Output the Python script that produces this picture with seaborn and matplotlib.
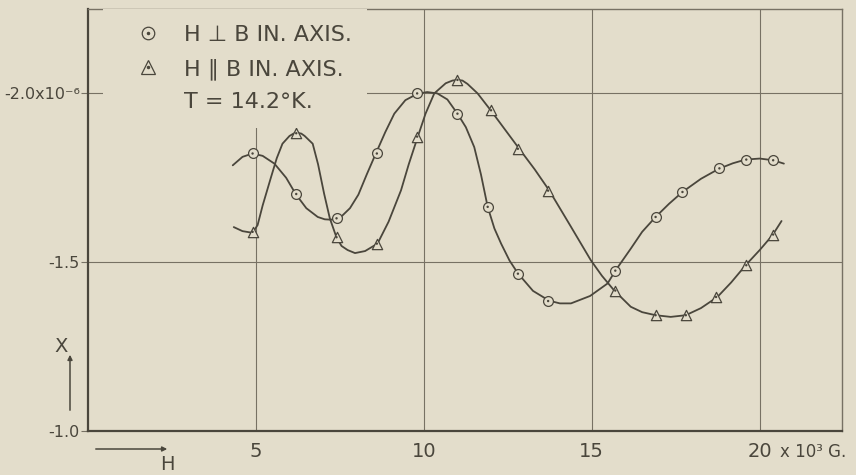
import matplotlib
matplotlib.use("Agg")
import matplotlib.pyplot as plt
import seaborn as sns
import pandas as pd
from matplotlib.lines import Line2D
from matplotlib.legend_handler import HandlerTuple

# ---- measured points (field in 10^3 G, |chi| in 10^-6) ----
perp_field = [4.9, 6.2, 7.4, 8.6, 9.8, 11.0, 11.9, 12.8, 13.7, 15.7, 16.9, 17.7, 18.8, 19.6, 20.4]
perp_chi = [1.822, 1.702, 1.630, 1.822, 2.000, 1.940, 1.664, 1.466, 1.385, 1.475, 1.634, 1.708, 1.778, 1.804, 1.802]

par_field = [4.9, 6.2, 7.4, 8.6, 9.8, 11.0, 12.0, 12.8, 13.7, 15.7, 16.9, 17.8, 18.7, 19.6, 20.4]
par_chi = [1.590, 1.882, 1.574, 1.555, 1.872, 2.040, 1.950, 1.836, 1.712, 1.416, 1.343, 1.343, 1.397, 1.491, 1.582]

# ---- drawn smooth curves ----
perp_curve_field = [4.31, 4.6, 4.9, 5.2, 5.55, 5.9, 6.19, 6.5, 6.84, 7.05, 7.23, 7.4, 7.53, 7.8, 8.05, 8.3,
                    8.57, 8.85, 9.12, 9.45, 9.81, 10.1, 10.4, 10.7, 11.0, 11.25, 11.5, 11.7, 11.9, 12.1,
                    12.3, 12.55, 12.8, 13.25, 13.73, 14.05, 14.38, 14.95, 15.47, 15.71, 16.16, 16.5, 16.9,
                    17.3, 17.7, 18.25, 18.79, 19.2, 19.58, 20.0, 20.4, 20.72]
perp_curve_chi = [1.787, 1.812, 1.822, 1.815, 1.792, 1.750, 1.701, 1.660, 1.634, 1.627, 1.626, 1.628, 1.634,
                  1.660, 1.700, 1.760, 1.822, 1.885, 1.940, 1.980, 1.999, 2.004, 2.000, 1.982, 1.940, 1.900,
                  1.841, 1.760, 1.664, 1.600, 1.555, 1.505, 1.467, 1.415, 1.386, 1.378, 1.378, 1.400, 1.437,
                  1.476, 1.540, 1.590, 1.634, 1.673, 1.708, 1.747, 1.777, 1.793, 1.804, 1.807, 1.802, 1.792]

par_curve_field = [4.34, 4.6, 4.9, 5.05, 5.2, 5.45, 5.62, 5.79, 6.0, 6.12, 6.24, 6.35, 6.45, 6.69, 6.85, 7.03,
                   7.2, 7.4, 7.55, 7.73, 7.95, 8.25, 8.62, 8.95, 9.32, 9.55, 9.81, 10.05, 10.31, 10.65,
                   10.85, 11.0, 11.15, 11.3, 11.6, 11.99, 12.4, 12.84, 13.3, 13.73, 14.35, 14.97, 15.3,
                   15.66, 16.16, 16.5, 16.9, 17.35, 17.8, 18.25, 18.74, 19.15, 19.58, 20.0, 20.38, 20.65]
par_curve_chi = [1.604, 1.592, 1.587, 1.610, 1.668, 1.752, 1.808, 1.851, 1.874, 1.881, 1.883, 1.881, 1.874,
                 1.851, 1.790, 1.703, 1.630, 1.573, 1.548, 1.536, 1.527, 1.533, 1.555, 1.620, 1.713, 1.790,
                 1.869, 1.940, 2.000, 2.030, 2.038, 2.040, 2.038, 2.028, 2.000, 1.950, 1.895, 1.836, 1.775,
                 1.713, 1.610, 1.506, 1.460, 1.417, 1.368, 1.352, 1.343, 1.338, 1.343, 1.364, 1.397, 1.440,
                 1.491, 1.536, 1.580, 1.622]

y_ticks = [1.0, 1.5, 2.0]
y_tick_labels = ["-1.0", "-1.5", "-2.0x10\u207b\u2076"]
x_ticks = [5, 10, 15, 20]
x_tick_labels = ["5", "10", "15", "20"]
x_unit_label = "x 10\u00b3 G."
legend_labels = ["H \u22a5 B IN. AXIS.", "H \u2225 B IN. AXIS.", "T = 14.2\u00b0K."]

BG = "#E3DDCB"
INK = "#4a463c"
GRID = "#777164"

sns.set_theme(style="white")
plt.rcParams["font.family"] = ["DejaVu Sans"]

W, H = 856, 475
fig = plt.figure(figsize=(W / 100, H / 100), dpi=100, facecolor=BG)
ax = fig.add_axes([88 / W, 1 - 431 / H, (842 - 88) / W, (431 - 9) / H])
ax.set_facecolor(BG)

perp_curve = pd.DataFrame({"H": perp_curve_field, "chi": perp_curve_chi})
par_curve = pd.DataFrame({"H": par_curve_field, "chi": par_curve_chi})
perp_pts = pd.DataFrame({"H": perp_field, "chi": perp_chi})
par_pts = pd.DataFrame({"H": par_field, "chi": par_chi})

sns.lineplot(data=perp_curve, x="H", y="chi", ax=ax, color=INK, lw=1.3, estimator=None, zorder=2)
sns.lineplot(data=par_curve, x="H", y="chi", ax=ax, color=INK, lw=1.3, estimator=None, zorder=2)

sns.scatterplot(data=perp_pts, x="H", y="chi", ax=ax, marker="o", s=50, facecolor=BG,
                edgecolor=INK, linewidth=0.9, zorder=3)
sns.scatterplot(data=perp_pts, x="H", y="chi", ax=ax, marker="o", s=3, color=INK,
                edgecolor="none", zorder=4)
sns.scatterplot(data=par_pts, x="H", y="chi", ax=ax, marker="^", s=55, facecolor=BG,
                edgecolor=INK, linewidth=0.9, zorder=3)
sns.scatterplot(data=par_pts, x="H", y="chi", ax=ax, marker="o", s=3, color=INK,
                edgecolor="none", zorder=4)

ax.set_xlim(0, 22.45)
ax.set_ylim(1.0, 2.25)
ax.set_xticks(x_ticks)
ax.set_xticklabels(x_tick_labels)
ax.set_yticks(y_ticks)
ax.set_yticklabels(y_tick_labels)
ax.set_xlabel("")
ax.set_ylabel("")

ax.grid(True, color=GRID, lw=0.8)
ax.set_axisbelow(True)

for side in ["left", "bottom"]:
    ax.spines[side].set_linewidth(1.6)
    ax.spines[side].set_color(INK)
for side in ["top", "right"]:
    ax.spines[side].set_linewidth(1.0)
    ax.spines[side].set_color(GRID)

ax.tick_params(axis="y", direction="out", length=5, width=0.8, color=GRID, pad=1,
               labelsize=11.5, labelcolor=INK, left=True)
ax.tick_params(axis="x", length=0, pad=8, labelsize=14, labelcolor=INK)

# unit text following the last x tick label
ax.annotate(x_unit_label, xy=(x_ticks[-1], 0), xycoords=("data", "axes fraction"),
            xytext=(20, -21), textcoords="offset pixels", ha="left", va="center",
            fontsize=12, color=INK, annotation_clip=False)

# legend
h1 = (Line2D([], [], marker="o", ls="none", mfc=BG, mec=INK, ms=9, mew=0.9),
      Line2D([], [], marker="o", ls="none", color=INK, ms=1.5))
h2 = (Line2D([], [], marker="^", ls="none", mfc=BG, mec=INK, ms=10, mew=0.9),
      Line2D([], [], marker="o", ls="none", color=INK, ms=1.5))
h3 = Line2D([], [], ls="none")
leg = ax.legend([h1, h2, h3], legend_labels, handler_map={tuple: HandlerTuple(ndivide=1, pad=0)},
                loc="upper left", bbox_to_anchor=(0.02, 1.0), borderaxespad=0, frameon=True,
                facecolor=BG, edgecolor="none", framealpha=1, fontsize=16, labelcolor=INK,
                handlelength=2.6, handletextpad=0.3, labelspacing=0.58, borderpad=0.72, fancybox=False)
leg.set_zorder(5)

# axis arrows
ax.annotate("", xy=(70, H - 352), xytext=(70, H - 413), xycoords="figure pixels",
            textcoords="figure pixels",
            arrowprops=dict(arrowstyle="-|>", color=INK, lw=1.1, mutation_scale=7))
fig.text(61 / W, 1 - 347 / H, "X", ha="center", va="center", fontsize=14, color=INK)
ax.annotate("", xy=(170, H - 449), xytext=(93, H - 449), xycoords="figure pixels",
            textcoords="figure pixels",
            arrowprops=dict(arrowstyle="-|>", color=INK, lw=1.1, mutation_scale=7))
fig.text(167 / W, 1 - 464 / H, "H", ha="center", va="center", fontsize=14, color=INK)

fig.savefig("out.png", dpi=100, facecolor=BG)
